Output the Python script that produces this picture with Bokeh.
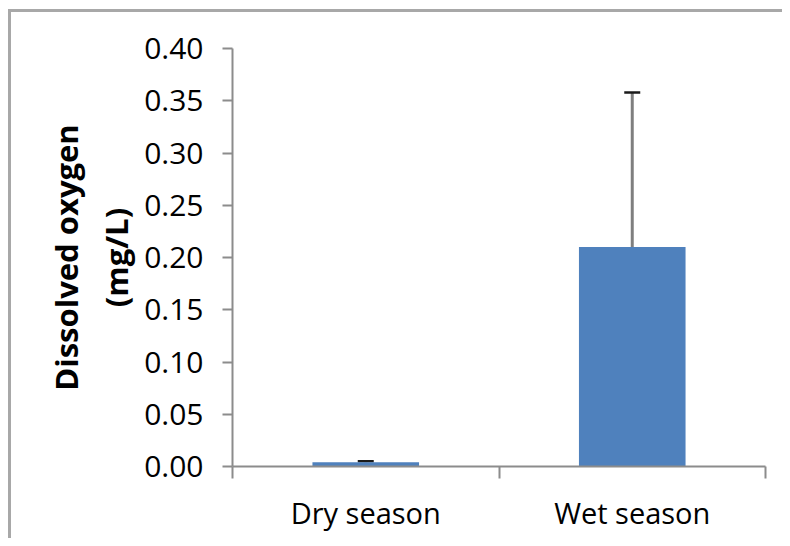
from bokeh.plotting import figure
from bokeh.models import Range1d, FixedTicker, ColumnDataSource, Whisker, TeeHead, NumeralTickFormatter
from bokeh.embed import file_html
from bokeh.resources import INLINE

categories = ["Dry season", "Wet season"]
values = [0.004, 0.21]
errors = [0.001, 0.148]
y_ticks = [0.0, 0.05, 0.10, 0.15, 0.20, 0.25, 0.30, 0.35, 0.40]

xpos = [i + 0.5 for i in range(len(categories))]
src = ColumnDataSource(dict(
    x=xpos, top=values,
    upper=[v + e for v, e in zip(values, errors)],
))

p = figure(width=782, height=538, x_range=Range1d(0, len(categories)),
           y_range=Range1d(0, 0.40), output_backend="svg", toolbar_location=None,
           min_border_left=232, min_border_right=17, min_border_top=48,
           min_border_bottom=72)
p.border_fill_color = None
p.background_fill_color = "white"
p.outline_line_color = None
p.styles = {"box-shadow": "inset 8px 9px 0 0 white, inset 11px 12px 0 0 #a8a8a8"}
p.xgrid.visible = False
p.ygrid.visible = False

p.vbar(x="x", top="top", width=0.4, bottom=0, source=src,
       fill_color="#4f81bd", line_color=None)

w = Whisker(source=src, base="x", upper="upper", lower="top",
            line_color="#7f7f7f", line_width=3,
            upper_head=TeeHead(size=16, line_color="#1a1a1a", line_width=2.5),
            lower_head=None)
p.add_layout(w)

axis_color = "#8c8c8c"
font = "Open Sans"

# y axis
ya = p.yaxis[0]
ya.ticker = FixedTicker(ticks=y_ticks)
ya.formatter = NumeralTickFormatter(format="0.00")
ya.axis_line_color = axis_color
ya.axis_line_width = 2
ya.major_tick_line_color = axis_color
ya.major_tick_line_width = 2
ya.major_tick_out = 10
ya.major_tick_in = 0
ya.minor_tick_line_color = None
ya.major_label_text_font = font
ya.major_label_text_font_size = "30px"
ya.major_label_text_color = "black"
ya.major_label_standoff = 19
ya.axis_label = "Dissolved oxygen\n(mg/L)"
ya.axis_label_text_font = font
ya.axis_label_text_font_size = "31px"
ya.axis_label_text_font_style = "bold"
ya.axis_label_text_color = "black"
ya.axis_label_standoff = 4

# x axis
xa = p.xaxis[0]
xa.ticker = FixedTicker(ticks=xpos, minor_ticks=list(range(len(categories) + 1)))
xa.major_label_overrides = {x: c for x, c in zip(xpos, categories)}
xa.axis_line_color = axis_color
xa.axis_line_width = 2
xa.major_tick_line_color = None
xa.major_tick_out = 0
xa.major_tick_in = 0
xa.minor_tick_line_color = axis_color
xa.minor_tick_line_width = 2
xa.minor_tick_out = 12
xa.minor_tick_in = 0
xa.major_label_text_font = font
xa.major_label_text_font_size = "29px"
xa.major_label_text_color = "black"
xa.major_label_standoff = 14

open("out.html", "w").write(file_html(p, INLINE))
